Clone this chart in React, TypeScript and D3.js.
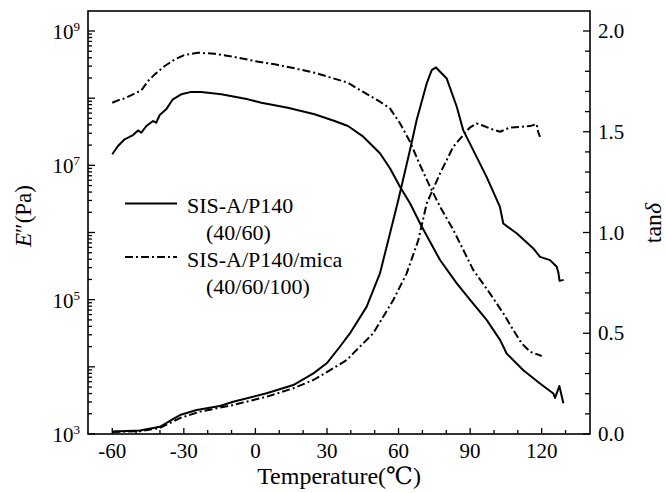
import React from 'react';
import * as d3 from 'd3';

// ---------- data ----------
// Storage modulus E'' (Pa), SIS-A/P140 (40/60) — solid
const solidModT = [-60, -57.6, -54.8, -51.3, -49.2, -47.8, -45.7, -42.9, -41.6, -40.1, -37.4, -34.6, -31.1, -26.9, -22.7, -14.3, -3.1, 2.5, 13.6, 24.8, 33.2, 38.8, 45.2, 52.2, 56.4, 60.6, 64.8, 69.0, 73.2, 77.4, 84.4, 90.0, 97.0, 102.6, 105.3, 112.3, 119.3, 124.9, 125.6, 127.4, 129.1];
const solidModE = [1.46e7, 1.94e7, 2.44e7, 2.82e7, 3.31e7, 3.06e7, 3.85e7, 4.57e7, 4.31e7, 5.61e7, 6.82e7, 9.62e7, 1.14e8, 1.24e8, 1.24e8, 1.14e8, 9.6e7, 8.55e7, 7.21e7, 5.75e7, 4.57e7, 3.85e7, 2.67e7, 1.51e7, 9.04e6, 4.81e6, 2.72e6, 1.37e6, 7.3e5, 3.89e5, 1.75e5, 9.9e4, 4.95e4, 2.5e4, 1.58e4, 8.9e3, 5.65e3, 4.01e3, 3.44e3, 5.19e3, 2.86e3];

// Storage modulus, SIS-A/P140/mica (40/60/100) — dash-dot
const micaModT = [-60, -57.6, -54.8, -51.3, -47.8, -45, -42.2, -38, -33.8, -29.7, -24.1, -17.1, -8.7, -0.3, 8.1, 16.5, 24.8, 31.3, 38.8, 43.8, 52.2, 56.4, 60.6, 64.8, 69.0, 73.2, 77.4, 83.0, 91.3, 98.3, 103.9, 108.1, 111.6, 115.1, 120];
const micaModE = [8.55e7, 9.29e7, 9.95e7, 1.14e8, 1.31e8, 1.8e8, 2.26e8, 3.01e8, 3.78e8, 4.39e8, 4.75e8, 4.59e8, 4.1e8, 3.57e8, 3.19e8, 2.78e8, 2.39e8, 2.04e8, 1.7e8, 1.32e8, 8.85e7, 7.06e7, 4.23e7, 2.25e7, 1.01e7, 4.81e6, 2.42e6, 1.09e6, 2.77e5, 1.24e5, 6.27e4, 3.53e4, 2.24e4, 1.68e4, 1.45e4];

// tan δ, SIS-A/P140 (40/60) — solid
const solidTanT = [-60, -48.4, -40, -35.8, -31.6, -24.6, -14.9, -9.3, 4.7, 15.9, 24.3, 29.9, 35.4, 39.6, 46.6, 52.2, 55.7, 59.9, 64.8, 67.6, 71.8, 73.9, 75.7, 80.2, 84.4, 87.1, 91.3, 96.9, 102.5, 103.9, 109.5, 116.5, 119.3, 123.5, 126.3, 127.0, 127.5, 129.2];
const solidTan = [0.012, 0.017, 0.036, 0.065, 0.094, 0.119, 0.139, 0.160, 0.202, 0.243, 0.301, 0.351, 0.433, 0.499, 0.631, 0.797, 0.962, 1.161, 1.409, 1.558, 1.74, 1.806, 1.819, 1.764, 1.624, 1.508, 1.409, 1.276, 1.127, 1.045, 0.996, 0.921, 0.879, 0.863, 0.83, 0.8, 0.76, 0.765];

// tan δ, SIS-A/P140/mica (40/60/100) — dash-dot
const micaTanT = [-60, -48, -40, -31.6, -23.2, -9.3, 4.7, 15.9, 24.3, 32.6, 38.3, 41.0, 49.4, 57.8, 63.4, 68.3, 71.8, 77.4, 82.9, 87.1, 89.9, 92.7, 95.5, 98.3, 102.5, 106.7, 110.9, 115.1, 117.9, 118.5, 119.3];
const micaTan = [0.01, 0.014, 0.03, 0.079, 0.111, 0.144, 0.185, 0.227, 0.268, 0.326, 0.367, 0.4, 0.5, 0.665, 0.797, 0.962, 1.144, 1.293, 1.425, 1.483, 1.521, 1.541, 1.53, 1.516, 1.5, 1.521, 1.524, 1.528, 1.538, 1.5, 1.475];

// axes
const xDomain = [-70, 140];
const xMajorTicks = [-60, -30, 0, 30, 60, 90, 120];
const xMinorTicks = [-50, -40, -20, -10, 10, 20, 40, 50, 70, 80, 100, 110, 130];
const leftDecades = [3, 4, 5, 6, 7, 8, 9];
const leftLabelDecades = [3, 5, 7, 9];
const rightMajorTicks = [0, 0.5, 1.0, 1.5, 2.0];
const rightMinorTicks = [0.1, 0.2, 0.3, 0.4, 0.6, 0.7, 0.8, 0.9, 1.1, 1.2, 1.3, 1.4, 1.6, 1.7, 1.8, 1.9];

const legendLabels = [
  ['SIS-A/P140', '(40/60)'],
  ['SIS-A/P140/mica', '(40/60/100)'],
];

const W = 665, H = 493;
const L = 88, T = 11, R = 590, B = 434;
const FONT = '"Liberation Serif", "Times New Roman", "DejaVu Serif", serif';
const DASH = '8,3,2,3';

export default function App() {
  const x = d3.scaleLinear().domain(xDomain).range([88.4, 589.4]);
  const yL = d3.scaleLog().domain([1e3, 1e9]).range([434, 31]);
  const yR = d3.scaleLinear().domain([0, 2]).range([434, 31]);

  const zip = (a: number[], b: number[]) => a.map((v, i) => [v, b[i]] as [number, number]);
  const lineL = d3.line<[number, number]>().x(d => x(d[0])).y(d => yL(d[1]));
  const lineR = d3.line<[number, number]>().x(d => x(d[0])).y(d => yR(d[1]));

  const leftMinor: number[] = [];
  leftDecades.slice(0, -1).forEach(p => {
    for (let k = 2; k <= 9; k++) leftMinor.push(k * Math.pow(10, p));
  });

  return (
    <svg width={W} height={H} style={{ position: 'absolute', left: 0, top: 0, background: '#fff', fontFamily: FONT }}>
      <rect x={0} y={0} width={W} height={H} fill="#fff" />
      {/* curves */}
      <g fill="none" stroke="#000" strokeWidth={2} strokeLinejoin="round">
        <path d={lineL(zip(solidModT, solidModE)) || ''} />
        <path d={lineL(zip(micaModT, micaModE)) || ''} strokeDasharray={DASH} />
        <path d={lineR(zip(solidTanT, solidTan)) || ''} />
        <path d={lineR(zip(micaTanT, micaTan)) || ''} strokeDasharray={DASH} />
      </g>

      {/* frame */}
      <rect x={L} y={T} width={R - L} height={B - T} fill="none" stroke="#000" strokeWidth={1.6} />

      {/* ticks */}
      <g stroke="#000" strokeWidth={1.3}>
        {xMajorTicks.map(t => <line key={'xM' + t} x1={x(t)} x2={x(t)} y1={B} y2={B - 6} />)}
        {xMinorTicks.map(t => <line key={'xm' + t} x1={x(t)} x2={x(t)} y1={B} y2={B - 4} />)}
        {leftDecades.map(p => <line key={'lM' + p} x1={L} x2={L + 7} y1={yL(Math.pow(10, p))} y2={yL(Math.pow(10, p))} />)}
        {leftMinor.map((v, i) => <line key={'lm' + i} x1={L} x2={L + 4} y1={yL(v)} y2={yL(v)} />)}
        {rightMajorTicks.map(t => <line key={'rM' + t} x1={R} x2={R - 7} y1={yR(t)} y2={yR(t)} />)}
        {rightMinorTicks.map(t => <line key={'rm' + t} x1={R} x2={R - 5} y1={yR(t)} y2={yR(t)} />)}
      </g>

      {/* tick labels */}
      <g fontSize={21} fill="#000">
        {xMajorTicks.map(t => (
          <text key={'xl' + t} x={x(t)} y={458} textAnchor="middle">{t}</text>
        ))}
        {leftLabelDecades.map(p => (
          <text key={'ll' + p} x={80} y={yL(Math.pow(10, p)) + 8} textAnchor="end">
            10<tspan fontSize={13} dy={-8}>{p}</tspan>
          </text>
        ))}
        {rightMajorTicks.map(t => (
          <text key={'rl' + t} x={598} y={yR(t) + 7}>{t.toFixed(1)}</text>
        ))}
      </g>

      {/* axis titles */}
      <text x={339} y={484} fontSize={24} textAnchor="middle">Temperature(℃)</text>
      <text transform="translate(31,216) rotate(-90)" fontSize={23} textAnchor="middle">
        <tspan fontStyle="italic">E</tspan>″(Pa)
      </text>
      <text transform="translate(661,223) rotate(-90)" fontSize={24} textAnchor="middle">
        tan<tspan fontStyle="italic">δ</tspan>
      </text>

      {/* legend */}
      <g fontSize={22}>
        <line x1={125} x2={177} y1={203.5} y2={203.5} stroke="#000" strokeWidth={2} />
        <text x={187} y={213}>{legendLabels[0][0]}</text>
        <text x={206} y={240}>{legendLabels[0][1]}</text>
        <line x1={125} x2={177} y1={257} y2={257} stroke="#000" strokeWidth={2} strokeDasharray={DASH} />
        <text x={187} y={267}>{legendLabels[1][0]}</text>
        <text x={206} y={294}>{legendLabels[1][1]}</text>
      </g>
    </svg>
  );
}
